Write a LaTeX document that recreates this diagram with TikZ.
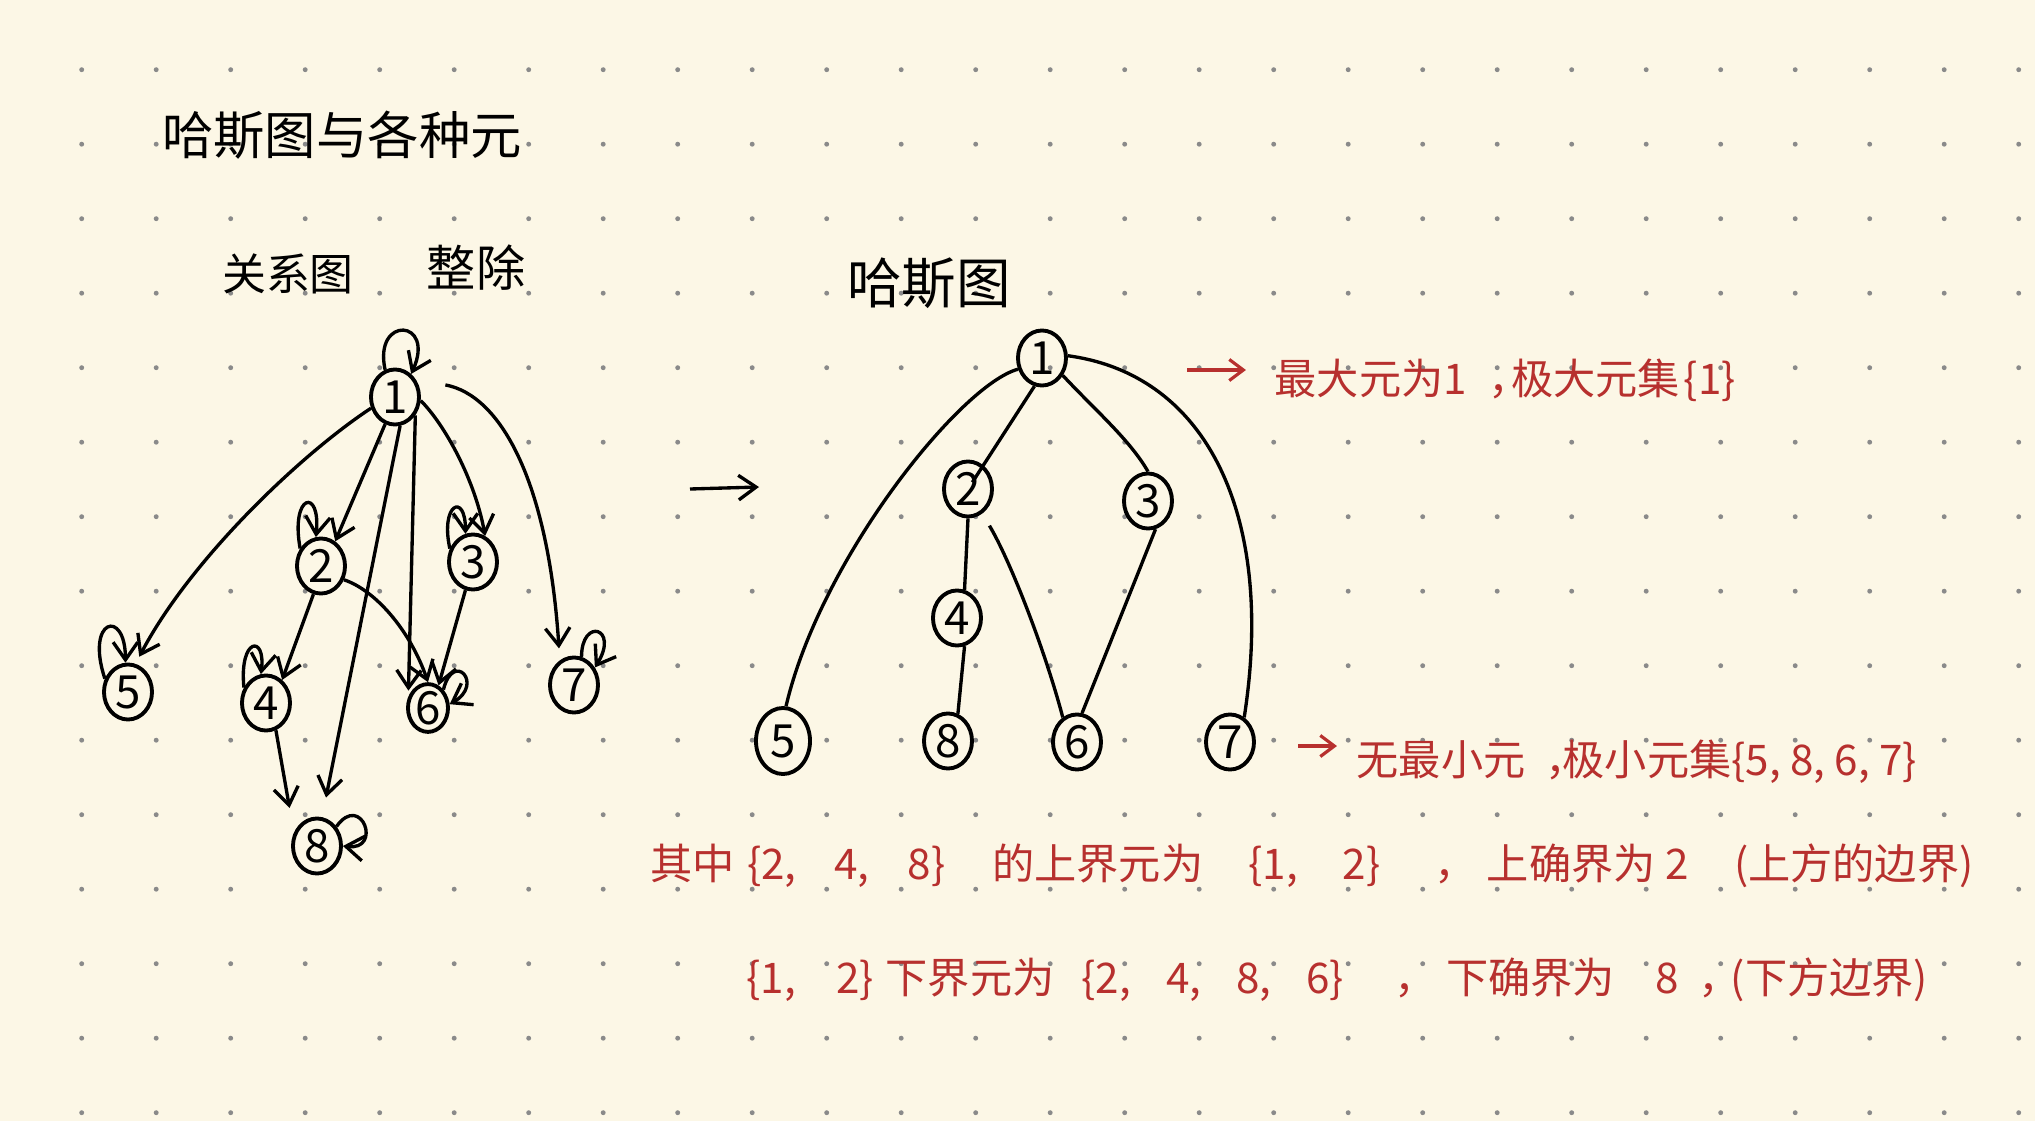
\documentclass[tikz,border=0pt]{standalone}
\usepackage{fontspec}
\setmainfont{Noto Sans CJK SC}
\usepackage{tikz}
\usetikzlibrary{arrows.meta,shapes.geometric}
\definecolor{paper}{RGB}{252,247,230}
\definecolor{griddot}{RGB}{138,138,138}
\definecolor{penred}{RGB}{183,48,46}
\tikzset{
vertex/.style={draw, ellipse, line width=1.1pt, minimum width=0.48cm, minimum height=0.55cm, inner sep=0pt, font=\fontsize{13}{13}\selectfont},
relarrow/.style={line width=0.95pt, -{Straight Barb[length=5pt,width=7pt]}},
hasseline/.style={line width=0.95pt},
heading/.style={inner sep=0pt},
rednote/.style={text=penred, anchor=west, inner sep=0pt, font=\fontsize{12}{12}\selectfont},
redarrow/.style={draw=penred, line width=0.9pt, -{Straight Barb[length=4pt,width=6pt]}}
}
\begin{document}
\begin{tikzpicture}[x=0.01cm, y=-0.01cm]
\useasboundingbox (0,0) rectangle (2035,1121);
\fill[paper] (0,0) rectangle (2035,1121);
\foreach \i in {0,...,26} \foreach \j in {0,...,14} \fill[griddot] (81.7+74.5*\i, 69.7+74.5*\j) circle (0.7pt);
\node[heading, font=\fontsize{14.6}{15}\selectfont] (Title) at (342,135) {哈斯图与各种元};
\node[heading, font=\fontsize{12.5}{13}\selectfont] (RelLabel) at (288,274) {关系图};
\node[heading, font=\fontsize{14}{14}\selectfont] (DivLabel) at (476,268) {整除};
\node[heading, font=\fontsize{15.5}{16}\selectfont] (HasseLabel) at (929,283) {哈斯图};
\node[vertex] (Rel1) at (395,397) {1};
\node[vertex] (Rel2) at (321,566) {2};
\node[vertex] (Rel3) at (473,562) {3};
\node[vertex] (Rel4) at (266,703) {4};
\node[vertex] (Rel5) at (128,692) {5};
\node[vertex, minimum width=0.4cm, minimum height=0.46cm] (Rel6) at (428,708) {6};
\node[vertex] (Rel7) at (574,685) {7};
\node[vertex] (Rel8) at (317,846) {8};
\draw[relarrow, shorten >=0.08cm] (Rel1.205) .. controls (300,455) and (190,560) .. (Rel5.75);
\draw[relarrow] (Rel1.250) -- (Rel2.60);
\draw[relarrow, shorten >=0.2cm] (Rel1.280) -- (Rel8.80);
\draw[relarrow, shorten >=0.06cm] (Rel1.318) -- (Rel6.150);
\draw[relarrow] (Rel1.352) .. controls (445,425) and (475,480) .. (Rel3.65);
\draw[relarrow, shorten <=0.3cm, shorten >=0.12cm] (Rel1.40) .. controls (500,395) and (548,480) .. (Rel7.120);
\draw[relarrow] (Rel2.255) -- (Rel4.55);
\draw[relarrow] (Rel2.329) .. controls (375,590) and (410,630) .. (Rel6.north);
\draw[relarrow] (Rel3.255) -- (Rel6.65);
\draw[relarrow, shorten >=0.25cm] (Rel4.290) -- (Rel8.150);
\draw[relarrow] (Rel1.110) .. controls +(-12,-55) and +(25,-55) .. (Rel1.55);
\draw[relarrow] (Rel2.140) .. controls +(-10,-55) and +(5,-50) .. (Rel2.100);
\draw[relarrow] (Rel3.150) .. controls +(-10,-45) and +(0,-42) .. (Rel3.105);
\draw[relarrow] (Rel4.145) .. controls +(-5,-50) and +(5,-40) .. (Rel4.100);
\draw[relarrow] (Rel5.150) .. controls +(-20,-60) and +(0,-55) .. (Rel5.95);
\draw[relarrow] (Rel6.50) .. controls +(10,-40) and +(35,-20) .. (Rel6.10);
\draw[relarrow] (Rel7.75) .. controls +(0,-40) and +(25,-40) .. (Rel7.40);
\draw[relarrow] (Rel8.45) .. controls +(25,-35) and +(40,5) .. (Rel8.0);
\coordinate (ShiftTail) at (690,489);
\coordinate (ShiftHead) at (759,487);
\draw[relarrow] (ShiftTail) -- (ShiftHead);
\node[vertex] (Hasse1) at (1042,358) {1};
\node[vertex] (Hasse2) at (968,489) {2};
\node[vertex] (Hasse3) at (1148,501) {3};
\node[vertex] (Hasse4) at (957,618) {4};
\node[vertex, minimum width=0.54cm, minimum height=0.66cm] (Hasse5) at (783,741) {5};
\node[vertex] (Hasse6) at (1077,742) {6};
\node[vertex] (Hasse7) at (1230,742) {7};
\node[vertex] (Hasse8) at (948,741) {8};
\draw[hasseline] (Hasse1.205) .. controls (960,385) and (820,560) .. (Hasse5.85);
\draw[hasseline, shorten >=0.08cm] (Hasse1.255) -- (Hasse2.center);
\draw[hasseline] (Hasse1.320) .. controls (1095,410) and (1130,440) .. (Hasse3.north);
\draw[hasseline] (Hasse1.5) .. controls (1210,375) and (1275,520) .. (Hasse7.60);
\draw[hasseline] (Hasse2.south) -- (Hasse4.75);
\draw[hasseline] (Hasse4.285) -- (Hasse8.70);
\draw[hasseline, shorten <=0.14cm] (Hasse2.300) .. controls (1010,560) and (1045,650) .. (Hasse6.120);
\draw[hasseline] (Hasse3.285) -- (Hasse6.80);
\node[rednote] (MaxNote) at (1274,380) {最大元为1\hspace{0.22cm}，\hspace{-0.2cm}极大元集\hspace{0.04cm}\{1\}};
\node[rednote] (MinNote) at (1356,762) {无最小元\hspace{0.2cm}，\hspace{-0.25cm}极小元集\{5, 8, 6, 7\}};
\node[rednote] (UpperNote) at (650,866) {其中\hspace{0.12cm}\{2,\hspace{0.38cm}4,\hspace{0.38cm}8\}\hspace{0.47cm}的上界元为\hspace{0.45cm}\{1,\hspace{0.45cm}2\}\hspace{0.54cm}，\hspace{0.1cm}上确界为\hspace{0.1cm}2\hspace{0.45cm}(上方的边界)};
\node[rednote] (LowerNote) at (746,980) {\{1,\hspace{0.4cm}2\}\hspace{0.12cm}下界元为\hspace{0.27cm}\{2,\hspace{0.35cm}4,\hspace{0.35cm}8,\hspace{0.35cm}6\}\hspace{0.5cm}，\hspace{0.1cm}下确界为\hspace{0.4cm}8\hspace{0.2cm}，\hspace{-0.1cm}(下方边界)};
\coordinate (MaxTail) at (1187,370);
\draw[redarrow, shorten >=0.28cm] (MaxTail) -- (MaxNote.west |- MaxTail);
\coordinate (MinTail) at (1298,746);
\draw[redarrow, shorten >=0.19cm] (MinTail) -- (MinNote.west |- MinTail);
\end{tikzpicture}
\end{document}
